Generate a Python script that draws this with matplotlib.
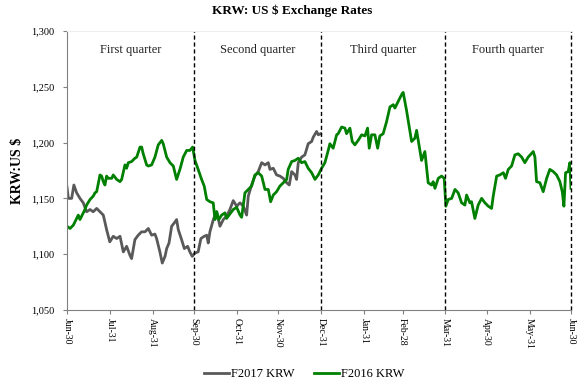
import matplotlib
matplotlib.use("Agg")
import matplotlib.pyplot as plt
import matplotlib.dates as mdates
import matplotlib.ticker as mticker
import numpy as np
import pandas as pd

# day offsets from Jun-30 and KRW per US$ values
f2017_days = [0, 1, 3.4, 5, 7, 9.4, 11.8, 14.2, 16.7, 19, 21.5, 23.9, 26.3, 28.7, 31, 33.5, 36,
              38.4, 40.8, 43.2, 45.6, 46.8, 49.2, 51.6, 54, 56.5, 58.9, 61.3, 63.7, 64.9, 67.3,
              69, 71, 72.2, 73.9, 75.8, 77.7, 79.4, 80.6, 83, 85, 87.4, 89, 90.7, 92.7, 95, 97,
              99.4, 101.2, 102.3, 103.5, 106, 108.4, 110.8, 113.2, 115.6, 118, 120.4, 122.9,
              125.3, 127.7, 130.1, 131.3, 133.7, 136.1, 138.5, 141, 143.4, 145.8, 147, 149.4,
              151.8, 154.2, 156.6, 159.1, 161, 162.7, 165.1, 166.3, 167.5, 169.9, 172.3, 174.7,
              177.2, 178.4, 180.8, 182, 183.7]
f2017_krw = [1160, 1150, 1150, 1162, 1155, 1150, 1146, 1138, 1140, 1138, 1141, 1138, 1135, 1122,
             1111, 1116, 1114, 1116, 1102, 1107, 1099, 1096, 1113, 1117, 1120, 1120, 1123, 1117,
             1118, 1114, 1102, 1092, 1098, 1105, 1110, 1125, 1128, 1131, 1122, 1113, 1105, 1107,
             1102, 1098, 1101, 1102, 1114, 1116, 1117, 1110, 1120, 1131, 1138, 1125, 1131, 1134,
             1140, 1148, 1143, 1146, 1143, 1135, 1152, 1162, 1170, 1174, 1182, 1180, 1182, 1176,
             1177, 1171, 1170, 1168, 1164, 1162, 1174, 1171, 1167, 1182, 1187, 1189, 1199, 1201,
             1205, 1210, 1207, 1208]

f2016_days = [0, 2.2, 4.6, 7, 8.2, 9.4, 10.6, 13, 14.2, 16.7, 19, 20.3, 21.5, 23.9, 25.1, 26.3,
              27.5, 28.7, 29.9, 32.4, 33.5, 36, 38.4, 39.6, 42, 43.2, 44.4, 46.8, 49.2, 50.5,
              52.9, 54.1, 55.2, 57.7, 58.9, 61.3, 63.7, 66.1, 68.6, 69.7, 72.2, 74.6, 77, 79.4,
              81.8, 84.2, 86.7, 89, 91, 92.7, 95, 97.5, 99.4, 101.2, 103.5, 105.9, 107.2, 108.4,
              110, 112, 114.4, 115.6, 118, 120.4, 122.9, 125.3, 126.5, 128.9, 131.3, 133.7,
              136.1, 138.5, 141, 143.4, 145.8, 147.5, 149.4, 151.8, 154.2, 156.6, 159.1, 160.2,
              162.7, 165.1, 167.5, 169.9, 172.3, 174.7, 177.2, 179.6, 182, 184.4, 186.8, 189.2,
              190.4, 192.8, 195.3, 196.4, 198.9, 201.3, 202.5, 204.9, 206.6, 208.5, 210.9, 213.4,
              215.8, 217.7, 218.9, 220.6, 223, 225, 226.6, 229, 231.5, 233.9, 236.3, 237.5, 239.9,
              241.1, 242.8, 243.5, 245.9, 249.6, 252, 253.2, 256.8, 259.2, 261.6, 264, 265.2,
              266.5, 268.9, 271.3, 273.2, 274.4, 276.1, 278.6, 281, 283.3, 285.8, 288.2, 289.4,
              291.8, 293, 295.4, 297.8, 300.3, 302.7, 305.1, 307.5, 308.7, 311.2, 313.5, 316,
              317.6, 319.6, 322, 324.4, 326.8, 329.3, 331.6, 334, 337.7, 338.9, 340.1, 342.5,
              344.9, 347.4, 349.7, 352.2, 354.6, 357, 358.7, 359.9, 361.1, 363, 364.2, 365]
f2016_krw = [1125, 1123, 1126, 1132, 1135, 1131, 1134, 1140, 1144, 1149, 1152, 1155, 1156, 1171,
             1170, 1165, 1162, 1170, 1168, 1168, 1171, 1167, 1165, 1167, 1180, 1177, 1182, 1183,
             1186, 1187, 1196, 1196, 1190, 1180, 1179, 1180, 1187, 1198, 1202, 1199, 1187, 1182,
             1179, 1167, 1176, 1187, 1193, 1193, 1196, 1184, 1176, 1167, 1161, 1149, 1147, 1146,
             1131, 1138, 1131, 1135, 1137, 1132, 1136, 1140, 1142, 1135, 1133, 1155, 1158, 1161,
             1171, 1173, 1170, 1158, 1158, 1147, 1153, 1156, 1161, 1164, 1167, 1176, 1183, 1184,
             1186, 1182, 1183, 1177, 1173, 1167, 1171, 1177, 1182, 1193, 1199, 1195, 1207, 1208,
             1214, 1213, 1208, 1213, 1201, 1198, 1202, 1207, 1206, 1213, 1195, 1207, 1207, 1195,
             1206, 1208, 1219, 1232, 1234, 1231, 1237, 1240, 1244, 1245, 1229, 1201, 1204, 1211,
             1184, 1192, 1164, 1162, 1165, 1159, 1168, 1170, 1168, 1143, 1149, 1150, 1158, 1155,
             1146, 1144, 1153, 1146, 1147, 1132, 1144, 1150, 1146, 1143, 1141, 1152, 1170, 1171,
             1173, 1168, 1176, 1179, 1189, 1190, 1187, 1182, 1187, 1192, 1187, 1165, 1164, 1156,
             1168, 1176, 1174, 1171, 1165, 1156, 1143, 1173, 1174, 1182, 1159]

quarters = ["First quarter", "Second quarter", "Third quarter", "Fourth quarter"]
quarter_ends = ["2016-09-30", "2016-12-31", "2017-03-31", "2017-06-30"]
start = pd.Timestamp("2016-06-30")

serif = "Liberation Serif"
plt.rcParams["font.family"] = serif

fig = plt.figure(figsize=(5.85, 3.84), dpi=100)
ax = fig.add_axes([0.1145, 0.193, 0.8615, 0.726])

x17 = start + pd.to_timedelta(f2017_days, unit="D")
x16 = start + pd.to_timedelta(f2016_days, unit="D")
ax.plot(x17, f2017_krw, color="#595959", lw=2, label="F2017 KRW")
ax.plot(x16, f2016_krw, color="#008000", lw=2, label="F2016 KRW")

bounds = [start] + [pd.Timestamp(q) for q in quarter_ends]
for q in bounds[1:]:
    ax.axvline(q, color="black", ls=(0, (3, 2)), lw=1, clip_on=False)
for i, name in enumerate(quarters):
    mid = bounds[i] + (bounds[i + 1] - bounds[i]) / 2
    ax.text(mid, 1283, name, ha="center", va="center", fontsize=9, color="#222222")

ax.set_xlim(start, pd.Timestamp("2017-06-30"))
ax.set_ylim(1050, 1300)
ax.set_yticks(np.arange(1050, 1301, 50))
ax.yaxis.set_major_formatter(mticker.FuncFormatter(lambda v, p: f"{int(v):,}"))
ticks = pd.date_range("2016-06-30", "2017-06-30", freq="ME")
ax.set_xticks(ticks)
ax.xaxis.set_major_formatter(mdates.DateFormatter("%b-%d"))
plt.setp(ax.get_xticklabels(), rotation=-90, fontsize=7)
plt.setp(ax.get_yticklabels(), fontsize=7.5)
ax.tick_params(axis="both", color="#808080", length=3)
ax.tick_params(axis="y", pad=6)
ax.tick_params(axis="x", pad=3)

ax.spines["right"].set_visible(False)
ax.spines["top"].set_color("#eeeeee")
ax.spines["left"].set_color("#808080")
ax.spines["bottom"].set_color("#808080")

ax.set_ylabel("KRW:US $", fontsize=10, fontweight="bold", labelpad=5)
fig.text(0.5, 0.972, "KRW: US $ Exchange Rates", ha="center", va="center",
         fontsize=9.5, fontweight="bold")
fig.legend(loc="center", bbox_to_anchor=(0.52, 0.025), ncol=2, frameon=False,
           fontsize=9, handlelength=2.0, columnspacing=1.5, handletextpad=0.2)

fig.savefig("out.png", dpi=100)
